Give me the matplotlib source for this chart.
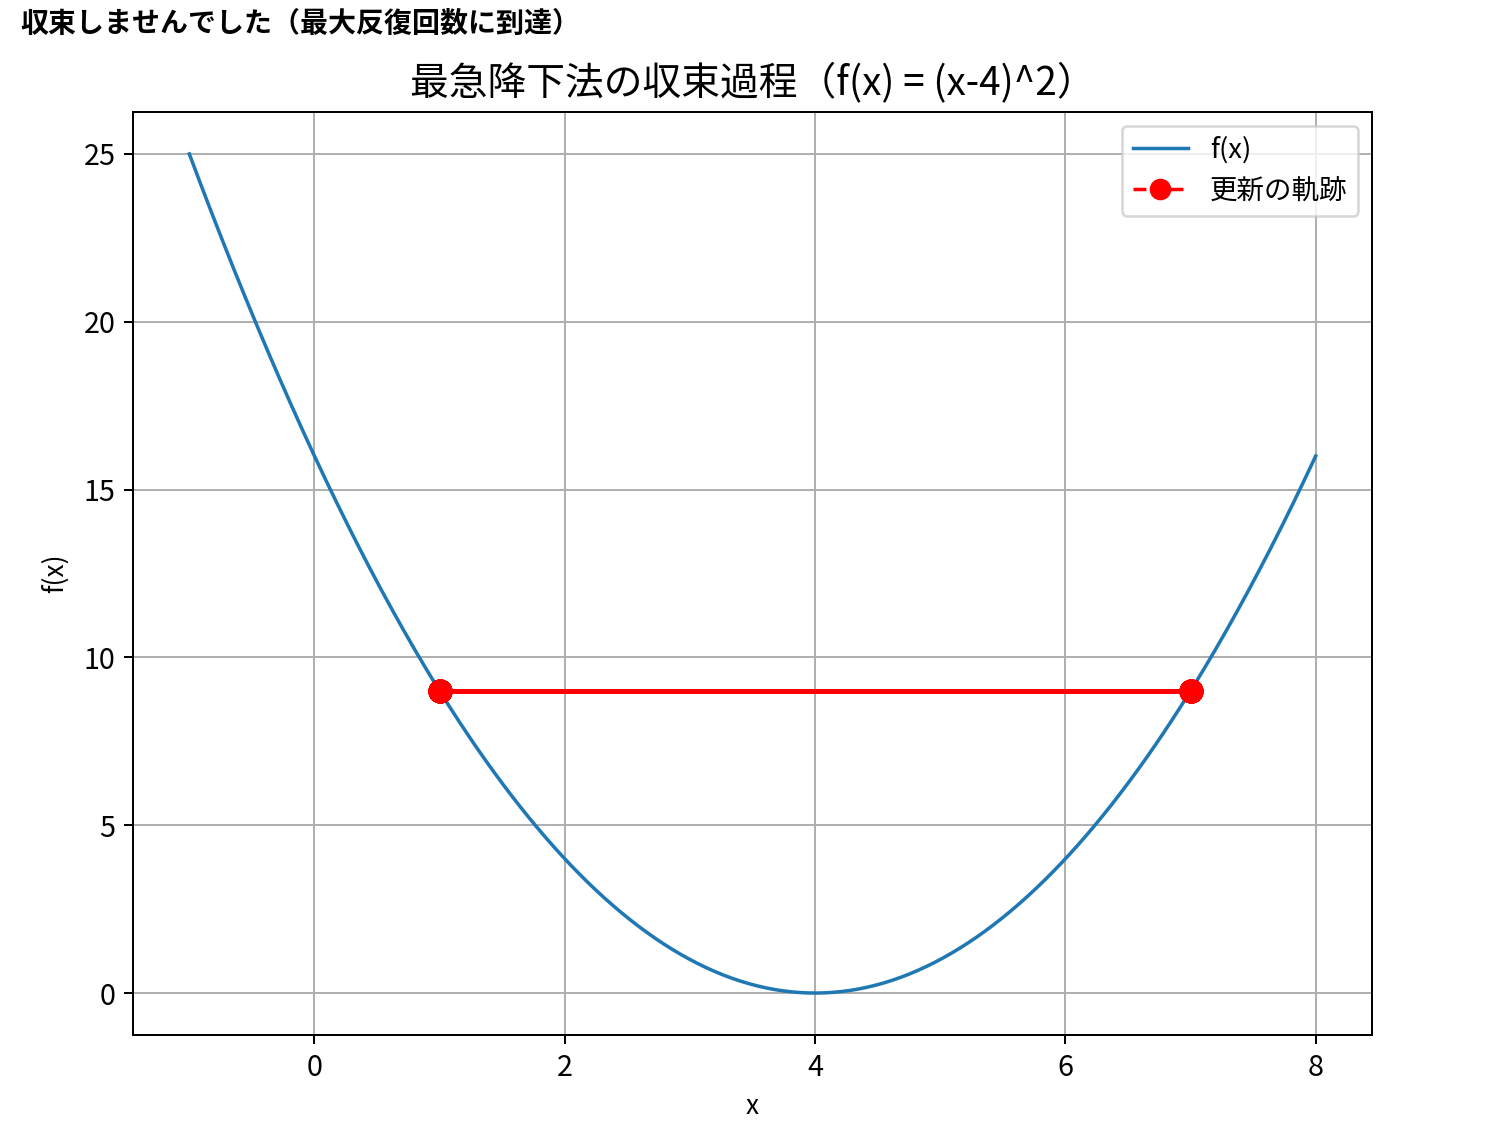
import numpy as np
import matplotlib
matplotlib.use("Agg")
import matplotlib.pyplot as plt

plt.rcParams['font.family'] = ['Noto Sans CJK JP', 'DejaVu Sans']

# Data
x_start, x_end = -1.0, 8.0
curve_x = np.linspace(x_start, x_end, 400)
curve_y = (curve_x - 4) ** 2          # f(x) = (x-4)^2, from title
# Gradient descent trajectory (oscillates between 1 and 7 until max iterations)
traj_x = [1.0, 7.0] * 50 + [1.0]
traj_y = [9.0] * len(traj_x)

title = "最急降下法の収束過程（f(x) = (x-4)^2）"
status = "収束しませんでした（最大反復回数に到達）"

DPI = 180
fig = plt.figure(figsize=(1502 / DPI, 1138 / DPI), dpi=DPI)
ax = fig.add_axes([133 / 1502, 1 - 1035 / 1138, (1372 - 133) / 1502, (1035 - 112) / 1138])

ax.plot(curve_x, curve_y, color='#1f77b4', lw=1.4, label='f(x)')
ax.plot(traj_x, traj_y, 'ro--', markersize=8.5, lw=1.4, label='更新の軌跡')

ax.set_title(title, fontsize=15.5, pad=7)
ax.set_xlabel('x', fontsize=10.5, labelpad=4)
ax.set_ylabel('f(x)', fontsize=10.5, labelpad=6)
ax.tick_params(labelsize=11.5)
ax.grid(True)
ax.legend(loc='upper right', fontsize=11, markerscale=0.9)

fig.text(20 / 1502, 1 - 24 / 1138, status, fontsize=11.2, weight='bold', va='center', ha='left')

fig.savefig('out.png', dpi=DPI)
